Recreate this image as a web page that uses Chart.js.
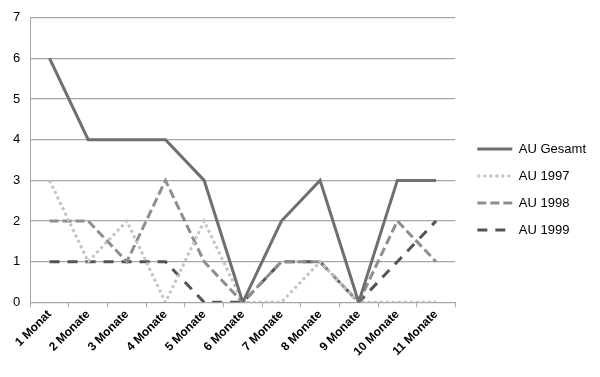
<!DOCTYPE html>
<html>
<head>
<meta charset="utf-8">
<script src="https://cdn.jsdelivr.net/npm/chart.js@4.4.1/dist/chart.umd.min.js"></script>
<style>
  html, body { margin: 0; padding: 0; background: #fff; }
  #wrap { width: 600px; height: 377px; position: relative; }
</style>
</head>
<body>
<div id="wrap"><canvas id="chart"></canvas></div>
<script>
// Kategorien und Werte
const labels = ['1 Monat', '2 Monate', '3 Monate', '4 Monate', '5 Monate', '6 Monate',
                '7 Monate', '8 Monate', '9 Monate', '10 Monate', '11 Monate'];
const auGesamt = [6, 4, 4, 4, 3, 0, 2, 3, 0, 3, 3];
const au1997   = [3, 1, 2, 0, 2, 0, 0, 1, 0, 0, 0];
const au1998   = [2, 2, 1, 3, 1, 0, 1, 1, 0, 2, 1];
const au1999   = [1, 1, 1, 1, 0, 0, 1, 1, 0, 1, 2];
const yTicks   = [0, 1, 2, 3, 4, 5, 6, 7];

const gridColor = '#a6a6a6';

function series(label, data, color, dash) {
    return {
        label: label,
        data: data,
        borderColor: color,
        backgroundColor: color,
        borderWidth: 3,
        borderDash: dash,
        pointRadius: 0,
        tension: 0,
        fill: false
    };
}

// Legende etwas nach rechts/unten schieben (wie im Original)
const legendShift = {
    id: 'legendShift',
    afterLayout(chart) {
        const lg = chart.legend;
        lg.left += 8; lg.right += 8;
        lg.top += 5; lg.bottom += 5;
    }
};

new Chart(document.getElementById('chart'), {
    type: 'line',
    plugins: [legendShift],
    data: {
        labels: labels,
        datasets: [
            series('AU Gesamt', auGesamt, '#6f6f6f', []),
            series('AU 1997', au1997, '#c4c4c4', [3, 3]),
            series('AU 1998', au1998, '#8e8e8e', [9, 4]),
            series('AU 1999', au1999, '#545454', [10, 8])
        ]
    },
    options: {
        responsive: true,
        maintainAspectRatio: false,
        animation: false,
        layout: { padding: { top: 10, right: 12, left: 3, bottom: 18 } },
        plugins: {
            tooltip: { enabled: false },
            legend: {
                position: 'right',
                align: 'center',
                labels: {
                    usePointStyle: true,
                    pointStyle: 'line',
                    pointStyleWidth: 35,
                    boxHeight: 6,
                    padding: 14,
                    color: '#000',
                    font: { family: "'Liberation Sans', sans-serif", size: 13 },
                    // keep the dash pattern of each line in the legend
                    generateLabels: (chart) => chart.data.datasets.map((ds, i) => ({
                        text: ds.label,
                        fillStyle: ds.borderColor,
                        strokeStyle: ds.borderColor,
                        lineWidth: ds.borderWidth,
                        lineDash: ds.borderDash,
                        pointStyle: 'line',
                        hidden: !chart.isDatasetVisible(i),
                        datasetIndex: i,
                        fontColor: '#000'
                    }))
                }
            }
        },
        scales: {
            x: {
                offset: true,
                grid: {
                    offset: true,
                    drawOnChartArea: false,
                    tickLength: 5,
                    color: gridColor
                },
                border: { color: gridColor, width: 1 },
                ticks: {
                    maxRotation: 45,
                    minRotation: 45,
                    color: '#000',
                    padding: 0,
                    font: { family: "'Liberation Sans', sans-serif", size: 12, weight: 'bold' }
                }
            },
            y: {
                min: 0,
                max: 7,
                afterBuildTicks: (axis) => { axis.ticks = yTicks.map(v => ({ value: v })); },
                grid: { color: gridColor, lineWidth: 1.3, drawTicks: false },
                border: { color: gridColor, width: 1 },
                ticks: {
                    color: '#000',
                    padding: 10,
                    font: { family: "'Liberation Sans', sans-serif", size: 13 }
                }
            }
        }
    }
});
</script>
</body>
</html>
